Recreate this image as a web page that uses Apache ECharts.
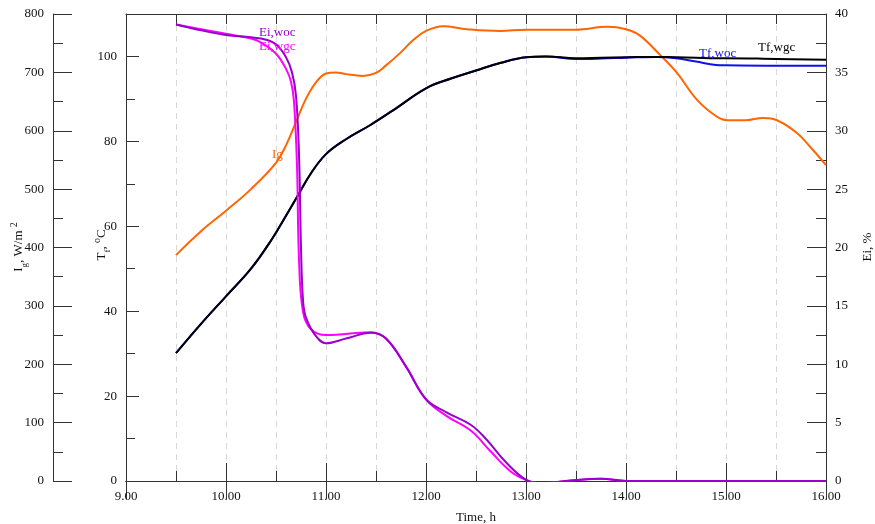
<!DOCTYPE html>
<html>
<head>
<meta charset="utf-8">
<script src="https://cdn.jsdelivr.net/npm/echarts@6/dist/echarts.min.js"></script>
<style>
html,body{margin:0;padding:0;background:#fff;}
#c{width:875px;height:524px;}
</style>
</head>
<body>
<div id="c"></div>
<script>
// ---------- data ----------
const timeTicks = [9, 10, 11, 12, 13, 14, 15, 16];

const igTime   = [9.5, 9.75, 10.0, 10.25, 10.5, 10.6, 10.7, 10.8, 10.9, 11.0, 11.1, 11.2, 11.37, 11.5, 11.6, 11.74, 11.87, 12.0, 12.17, 12.41, 12.74, 13.0, 13.5, 13.81, 14.0, 14.14, 14.34, 14.51, 14.71, 14.91, 15.01, 15.2, 15.37, 15.51, 15.71, 15.87, 16.0];
const igValues = [387, 428, 463, 500, 545, 575, 615, 655, 683, 698, 700, 697, 694, 699, 712, 733, 755, 771, 779, 774, 771, 773, 773, 778, 774, 763, 730, 699, 653, 624, 618, 618, 622, 618, 596, 567, 541];

const tfTime = [9.5, 9.75, 10.0, 10.25, 10.46, 10.6, 10.72, 10.85, 11.0, 11.2, 11.44, 11.67, 12.0, 12.25, 12.5, 12.75, 13.0, 13.2, 13.5, 13.75, 14.0, 14.3, 14.5, 14.7, 14.9, 15.0, 15.5, 16.0];
const tfWgc  = [30.1, 37, 43.5, 50, 57, 62.5, 67.3, 72.5, 77, 80.5, 83.8, 87.3, 92.5, 94.8, 96.7, 98.5, 99.8, 100, 99.6, 99.7, 99.8, 99.9, 99.8, 99.7, 99.6, 99.6, 99.4, 99.2];
const tfWoc  = [30.1, 37, 43.5, 50, 57, 62.5, 67.3, 72.5, 77, 80.5, 83.8, 87.3, 92.5, 94.8, 96.7, 98.5, 99.8, 100, 99.4, 99.5, 99.7, 99.9, 99.6, 98.8, 98.0, 97.9, 97.8, 97.8];

const eiWocTime = [9.5, 9.75, 10.0, 10.25, 10.4, 10.5, 10.6, 10.66, 10.7, 10.73, 10.75, 10.77, 10.8, 10.9, 11.0, 11.2, 11.45, 11.6, 11.8, 12.0, 12.2, 12.45, 12.6, 12.8, 13.0, 13.15, 13.4, 13.75, 14.0, 14.5, 15.0, 15.5, 16.0];
const eiWoc     = [39.1, 38.6, 38.2, 38.0, 37.8, 37.4, 36.3, 35.0, 33.0, 28.0, 20.0, 15.5, 14.0, 12.4, 11.8, 12.2, 12.7, 12.2, 9.8, 7.0, 5.9, 4.8, 3.6, 1.6, 0.1, -0.2, 0.0, 0.2, 0.0, 0.0, 0.0, 0.0, 0.0];

const eiWgcTime = [9.5, 9.75, 10.0, 10.25, 10.34, 10.5, 10.6, 10.65, 10.68, 10.71, 10.73, 10.77, 10.85, 11.0, 11.2, 11.45, 11.6, 11.8, 12.0, 12.2, 12.45, 12.65, 12.85, 13.0, 13.15, 13.4, 13.75, 14.0, 14.5, 15.0, 15.5, 16.0];
const eiWgc     = [39.1, 38.7, 38.3, 37.9, 37.6, 36.6, 35.3, 34.2, 32.5, 27.0, 19.0, 14.5, 13.0, 12.5, 12.6, 12.75, 12.2, 9.8, 7.0, 5.6, 4.3, 2.5, 0.8, 0.1, -0.2, 0.0, 0.2, 0.0, 0.0, 0.0, 0.0, 0.0];

// ---------- helpers ----------
const pair = (xs, ys) => xs.map((x, i) => [x, ys[i]]);
const FONT = '"Liberation Serif", "Times New Roman", serif';
const AX = '#333';
const GRIDC = '#d8d8d8';
const XMIN = timeTicks[0], XMAX = timeTicks[timeTicks.length - 1];

const chart = echarts.init(document.getElementById('c'), null, {renderer: 'canvas'});

const lineSeries = (name, data, color, yIdx, z) => ({
  name, type: 'line', data, xAxisIndex: 0, yAxisIndex: yIdx,
  showSymbol: false, symbol: 'none', smooth: 0.4,
  lineStyle: {color, width: 2}, itemStyle: {color}, z, animation: false
});

// tick-only helper x axis (half-hour ticks)
const halfAxis = (position, withGrid) => ({
  type: 'value', min: XMIN, max: XMAX, interval: 0.5, position,
  axisLine: {show: true, lineStyle: {color: AX, width: 1}},
  axisTick: {show: true, inside: true, length: 10, lineStyle: {color: AX}},
  splitLine: {show: withGrid, lineStyle: {color: GRIDC, type: [6, 5], width: 1}},
  axisLabel: {show: false}
});

const option = {
  animation: false,
  grid: {left: 126, right: 49, top: 14, bottom: 43, containLabel: false, outerBoundsMode: 'none'},
  xAxis: [
    {
      type: 'value', min: XMIN, max: XMAX, interval: 1, position: 'bottom',
      axisLine: {show: true, lineStyle: {color: AX, width: 1}},
      axisTick: {show: true, inside: true, length: 18, lineStyle: {color: AX}},
      splitLine: {show: false},
      axisLabel: {margin: 9, formatter: v => v.toFixed(2), fontFamily: FONT, fontSize: 13, color: '#111'},
      name: 'Time, h', nameLocation: 'middle', nameGap: 30,
      nameTextStyle: {fontFamily: FONT, fontSize: 13, color: '#111'}
    },
    {
      type: 'value', min: XMIN, max: XMAX, interval: 1, position: 'top',
      axisLine: {show: true, lineStyle: {color: AX, width: 1}},
      axisTick: {show: true, inside: true, length: 18, lineStyle: {color: AX}},
      splitLine: {show: false}, axisLabel: {show: false}
    },
    halfAxis('bottom', true),
    halfAxis('top', false)
  ],
  yAxis: [
    { // Tf
      type: 'value', min: 0, max: 110, interval: 20, position: 'left', offset: 0,
      axisLine: {show: true, onZero: false, lineStyle: {color: AX, width: 1}},
      axisTick: {show: true, inside: true, length: 13, lineStyle: {color: AX}},
      minorTick: {show: true, splitNumber: 2, length: 9, lineStyle: {color: AX}},
      splitLine: {show: false},
      axisLabel: {margin: 9, showMaxLabel: false, fontFamily: FONT, fontSize: 13, color: '#111'}
    },
    { // Ig
      type: 'value', min: 0, max: 800, interval: 100, position: 'left', offset: 73,
      axisLine: {show: true, onZero: false, lineStyle: {color: AX, width: 1}},
      axisTick: {show: true, inside: true, length: 19, lineStyle: {color: AX}},
      minorTick: {show: true, splitNumber: 2, length: 10, lineStyle: {color: AX}},
      splitLine: {show: false},
      axisLabel: {margin: 9, fontFamily: FONT, fontSize: 13, color: '#111'}
    },
    { // Ei
      type: 'value', min: 0, max: 40, interval: 5, position: 'right', offset: 0,
      axisLine: {show: true, onZero: false, lineStyle: {color: AX, width: 1}},
      axisTick: {show: true, inside: true, length: 19, lineStyle: {color: AX}},
      minorTick: {show: true, splitNumber: 2, length: 10, lineStyle: {color: AX}},
      splitLine: {show: false},
      axisLabel: {margin: 9, fontFamily: FONT, fontSize: 13, color: '#111'}
    }
  ],
  series: [
    lineSeries('Ig', pair(igTime, igValues), '#FF6600', 1, 2),
    lineSeries('Tf,woc', pair(tfTime, tfWoc), '#1010EE', 0, 3),
    lineSeries('Tf,wgc', pair(tfTime, tfWgc), '#000000', 0, 4),
    lineSeries('Ei,wgc', pair(eiWgcTime, eiWgc), '#FF00FF', 2, 5),
    lineSeries('Ei,woc', pair(eiWocTime, eiWoc), '#9900CC', 2, 6)
  ],
  graphic: [
    // axis titles
    {type: 'text', x: 19, y: 247, rotation: Math.PI / 2, z: 100,
     style: {text: '{a|I}{b|g}{a|, W/m }{c|2}', align: 'center', verticalAlign: 'middle', textAlign: 'center', textVerticalAlign: 'middle',
       rich: {a: {fontFamily: FONT, fontSize: 13, lineHeight: 20, verticalAlign: 'middle', fill: '#111', color: '#111'},
              b: {fontFamily: FONT, fontSize: 9, verticalAlign: 'bottom', fill: '#111', color: '#111'},
              c: {fontFamily: FONT, fontSize: 10, verticalAlign: 'top', fill: '#111', color: '#111'}}}},
    {type: 'text', x: 102, y: 245, rotation: Math.PI / 2, z: 100,
     style: {text: '{a|T}{b|f}{a|, }{c|o}{a|C}', align: 'center', verticalAlign: 'middle', textAlign: 'center', textVerticalAlign: 'middle',
       rich: {a: {fontFamily: FONT, fontSize: 13, lineHeight: 20, verticalAlign: 'middle', fill: '#111', color: '#111'},
              b: {fontFamily: FONT, fontSize: 9, verticalAlign: 'bottom', fill: '#111', color: '#111'},
              c: {fontFamily: FONT, fontSize: 10, verticalAlign: 'top', fill: '#111', color: '#111'}}}},
    {type: 'text', x: 868, y: 247, rotation: Math.PI / 2, z: 100,
     style: {text: 'Ei, %', font: '13px ' + FONT, fill: '#111', align: 'center', verticalAlign: 'middle', textAlign: 'center', textVerticalAlign: 'middle'}},
    // series labels
    {type: 'text', x: 259, y: 33, z: 100, style: {text: 'Ei,woc', font: '13px ' + FONT, fill: '#9900CC', align: 'left', verticalAlign: 'middle', textAlign: 'left', textVerticalAlign: 'middle'}},
    {type: 'text', x: 259, y: 47, z: 100, style: {text: 'Ei,wgc', font: '13px ' + FONT, fill: '#FF00FF', align: 'left', verticalAlign: 'middle', textAlign: 'left', textVerticalAlign: 'middle'}},
    {type: 'text', x: 272, y: 155, z: 100, style: {text: 'Ig', font: '13px ' + FONT, fill: '#FF6600', align: 'left', verticalAlign: 'middle', textAlign: 'left', textVerticalAlign: 'middle'}},
    {type: 'text', x: 699, y: 54, z: 100, style: {text: 'Tf,woc', font: '13px ' + FONT, fill: '#1010EE', align: 'left', verticalAlign: 'middle', textAlign: 'left', textVerticalAlign: 'middle'}},
    {type: 'text', x: 758, y: 48, z: 100, style: {text: 'Tf,wgc', font: '13px ' + FONT, fill: '#000000', align: 'left', verticalAlign: 'middle', textAlign: 'left', textVerticalAlign: 'middle'}}
  ]
};

chart.setOption(option);
</script>
</body>
</html>
